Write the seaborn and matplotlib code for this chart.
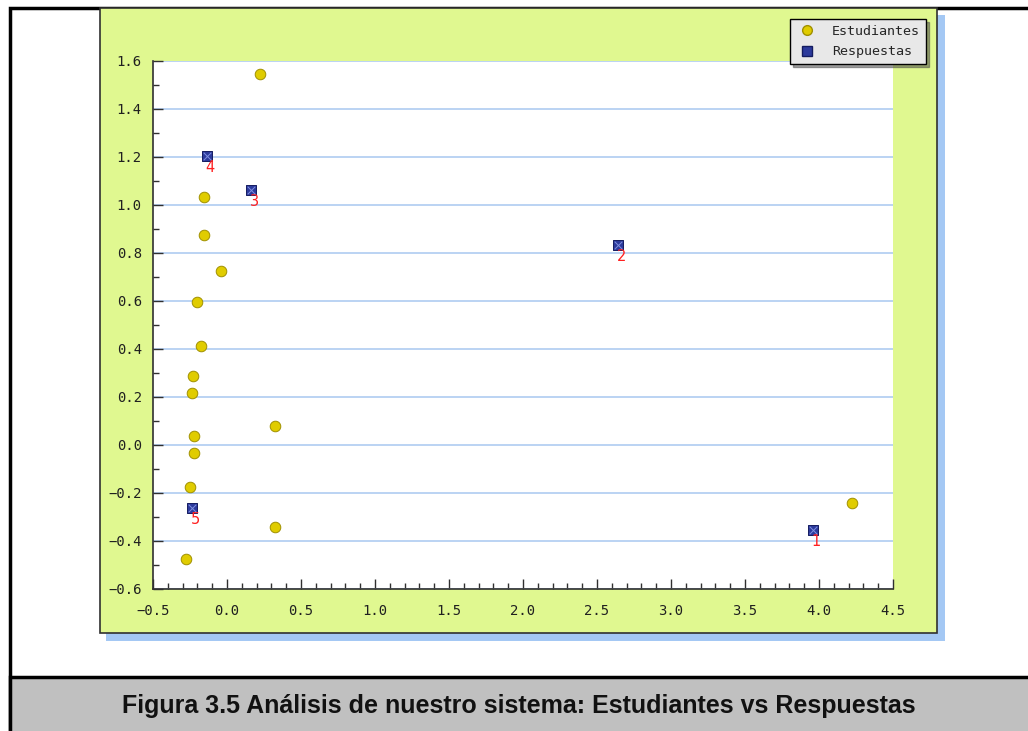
#for operations
import numpy as np
import pandas as pd

#for data visualisation
import matplotlib.pyplot as plt
import seaborn as sns
from matplotlib.patches import Rectangle
from matplotlib.ticker import MultipleLocator
from matplotlib.lines import Line2D

# data
est_x = [0.22, -0.155, -0.155, -0.04, -0.20, -0.175, -0.23, -0.235, -0.225, -0.225, 0.325, -0.25, 0.325, -0.275, 4.22]
est_y = [1.545, 1.033, 0.875, 0.727, 0.595, 0.413, 0.287, 0.217, 0.038, -0.035, 0.079, -0.175, -0.343, -0.475, -0.24]

resp_x = [3.96, 2.645, 0.165, -0.135, -0.235]
resp_y = [-0.355, 0.832, 1.062, 1.204, -0.263]
resp_lab = ['1', '2', '3', '4', '5']

caption = 'Figura 3.5 Análisis de nuestro sistema: Estudiantes vs Respuestas'

est = pd.DataFrame({'x': est_x, 'y': est_y})
resp = pd.DataFrame({'x': resp_x, 'y': resp_y, 'lab': resp_lab})

sns.set_style('white')
plt.rcParams['font.family'] = ['DejaVu Sans Mono', 'DejaVu Sans']

W, H = 1028, 731
fig = plt.figure(figsize=(W / 100, H / 100), dpi=100)

def box(x0, y0, x1, y1, **kw):
    # rectangle given in pixels from the top left corner
    r = Rectangle((x0 / W, 1 - y1 / H), (x1 - x0) / W, (y1 - y0) / H,
                  transform=fig.transFigure, **kw)
    fig.add_artist(r)

# page frame and caption band
box(10, 8, 1040, 740, facecolor='white', edgecolor='black', linewidth=2.5, zorder=0)
box(10, 677, 1040, 740, facecolor='#c0c0c0', edgecolor='black', linewidth=2.5, zorder=0.1)
# chart panel with blue shadow
box(106, 15, 945, 641, facecolor='#a4c8f4', edgecolor='none', zorder=0.2)
box(100, 8, 937, 633, facecolor='#e0f890', edgecolor='#303030', linewidth=1.2, zorder=0.3)

fig.text(519 / W, 1 - 706 / H, caption, ha='center', va='center',
         fontsize=18, fontweight='bold', family='Liberation Sans', color='#111111')

ax = fig.add_axes([153 / W, 1 - 589 / H, (893 - 153) / W, (589 - 61) / H])
ax.set_zorder(1)
ax.set_facecolor('white')

ax.grid(axis='y', color='#a8c8f0', linewidth=1.1)
ax.set_axisbelow(True)

sns.scatterplot(data=est, x='x', y='y', ax=ax, marker='o', s=58,
                color='#e0cc00', edgecolor='#a09000', linewidth=0.7, zorder=3)
sns.scatterplot(data=resp, x='x', y='y', ax=ax, marker='s', s=58,
                color='#2c3a9c', edgecolor='#141c60', linewidth=0.7, zorder=3)
sns.scatterplot(data=resp, x='x', y='y', ax=ax, marker='x', s=30,
                color='#8090e0', linewidth=0.7, zorder=4)

for i, row in resp.iterrows():
    ax.annotate(row['lab'], (row['x'], row['y']), xytext=(2, -8), textcoords='offset points',
                ha='center', va='center', color='#ff2020', fontsize=10.5, family='DejaVu Sans')

ax.set_xlim(-0.5, 4.5)
ax.set_ylim(-0.6, 1.6)
ax.xaxis.set_major_locator(MultipleLocator(0.5))
ax.xaxis.set_minor_locator(MultipleLocator(0.1))
ax.yaxis.set_major_locator(MultipleLocator(0.2))
ax.yaxis.set_minor_locator(MultipleLocator(0.1))
ax.xaxis.set_major_formatter(lambda v, p: f'{v:.1f}'.replace('-', '\u2212'))
ax.yaxis.set_major_formatter(lambda v, p: f'{v:.1f}'.replace('-', '\u2212'))
ax.tick_params(which='major', direction='in', length=7, width=1, color='#303030',
               labelcolor='#202020', labelsize=10)
ax.tick_params(which='minor', direction='in', length=4, width=1, color='#303030')
ax.tick_params(axis='x', which='both', bottom=True, pad=11)
ax.tick_params(axis='y', which='both', left=True, pad=8)
for s in ['top', 'right']:
    ax.spines[s].set_visible(False)
for s in ['left', 'bottom']:
    ax.spines[s].set_color('#303030')
    ax.spines[s].set_linewidth(1.2)
ax.set_xlabel('')
ax.set_ylabel('')

handles = [Line2D([], [], marker='o', linestyle='none', markersize=7,
                  markerfacecolor='#e0cc00', markeredgecolor='#a09000'),
           Line2D([], [], marker='s', linestyle='none', markersize=6.5,
                  markerfacecolor='#2c3a9c', markeredgecolor='#141c60')]
leg = fig.legend(handles, ['Estudiantes', 'Respuestas'], loc='upper right',
                 bbox_to_anchor=(926 / W, 1 - 19 / H), fontsize=9.6,
                 frameon=True, shadow=True, fancybox=False, facecolor='#e8e8e8',
                 edgecolor='black', framealpha=1, borderpad=0.45, labelspacing=0.55,
                 handletextpad=1.1, handlelength=1.6, borderaxespad=0)
leg.set_zorder(5)

fig.savefig('out.png', dpi=100)
